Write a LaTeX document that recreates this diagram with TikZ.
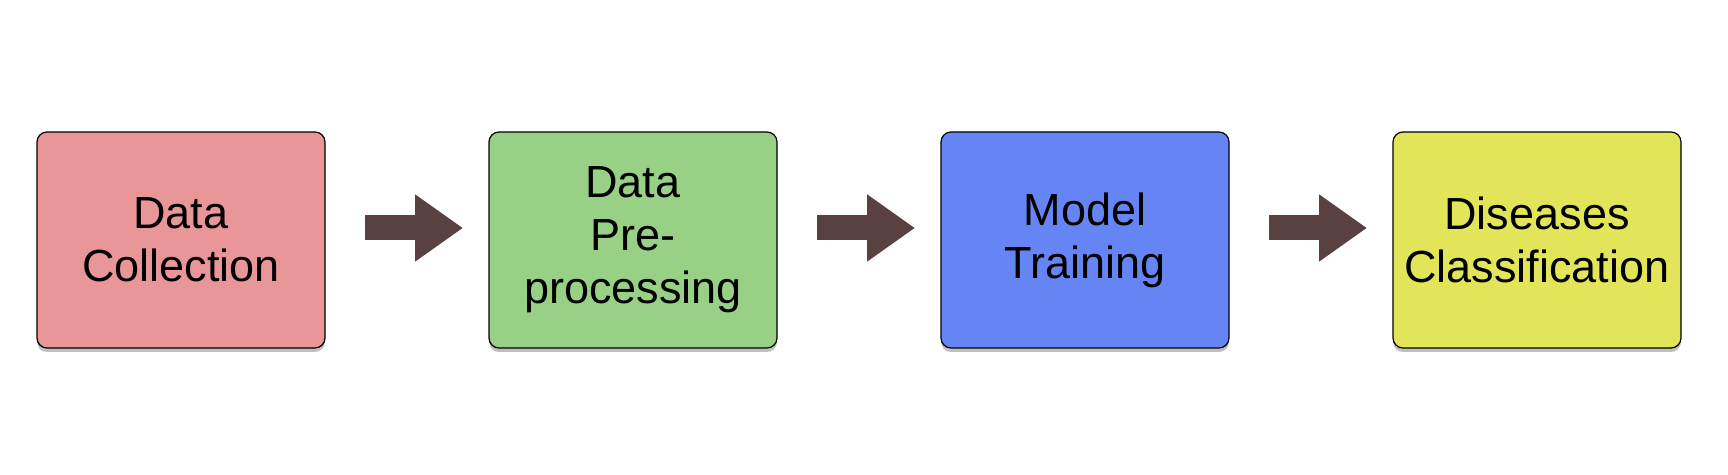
\documentclass[tikz,border=0pt]{standalone}
\usepackage{fontspec}
\setmainfont{Liberation Sans}
\usetikzlibrary{arrows.meta,positioning,shadows}

\definecolor{collectpink}{HTML}{E89698}
\definecolor{prepgreen}{HTML}{98D085}
\definecolor{trainblue}{HTML}{6685F5}
\definecolor{classyellow}{HTML}{E2E55A}
\definecolor{flowbrown}{HTML}{5A4141}

\begin{document}
\begin{tikzpicture}[node distance=82pt,
    stage/.style={draw=black,line width=0.6pt,rounded corners=5pt,outer sep=0pt,
      minimum width=144pt,minimum height=108pt,inner sep=0pt,align=center,
      font=\fontsize{22.5}{26.5}\selectfont,
      drop shadow={shadow xshift=0pt,shadow yshift=-2pt,opacity=0.25,fill=black}},
    flow/.style={draw=flowbrown,line width=12.5pt,
      -{Triangle[length=24pt,width=32pt]},shorten <=20pt,shorten >=13pt}]

    \useasboundingbox (0,0) rectangle (864pt,237.5pt);

    \node[stage,fill=collectpink] (collect) at (90.5pt,117.5pt) {Data\\Collection};
    \node[stage,fill=prepgreen] (prep) [right=of collect] {Data\\Pre-\\processing};
    \node[stage,fill=trainblue] (train) [right=of prep] {Model\\Training};
    \node[stage,fill=classyellow] (classify) [right=of train] {Diseases\\Classification};

    \draw[flow] ([yshift=6pt]collect.east) -- ([yshift=6pt]prep.west);
    \draw[flow] ([yshift=6pt]prep.east) -- ([yshift=6pt]train.west);
    \draw[flow] ([yshift=6pt]train.east) -- ([yshift=6pt]classify.west);
\end{tikzpicture}
\end{document}
